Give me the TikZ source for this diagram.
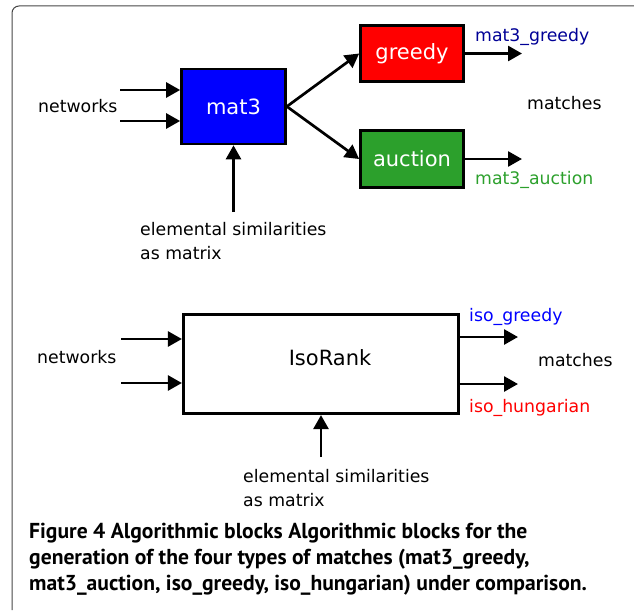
\documentclass[tikz,border=0pt]{standalone}
\usepackage{fontspec}
\setmainfont{DejaVu Sans}
\newfontfamily\capfont{PT Sans}
\usetikzlibrary{arrows.meta}
\definecolor{boxblue}{RGB}{0,0,255}
\definecolor{boxred}{RGB}{255,0,0}
\definecolor{boxgreen}{RGB}{44,160,44}
\definecolor{navylbl}{RGB}{0,0,150}
\definecolor{framegray}{RGB}{70,70,70}
\tikzset{
  blk/.style={draw=black, line width=2.7pt, inner sep=0pt, text=white,
    font=\fontsize{21}{24}\selectfont},
  arr/.style={line width=2.7pt, -{Triangle[length=14pt,width=15pt]}},
  lbl/.style={font=\fontsize{17.3}{24}\selectfont, inner sep=0pt, anchor=west},
  captext/.style={font=\capfont\bfseries\fontsize{21.6}{26}\selectfont, inner sep=0pt, anchor=base west}
}
\begin{document}
\begin{tikzpicture}[x=1pt,y=-1pt]
\useasboundingbox (0,0) rectangle (634,610);
\draw[framegray, line width=1pt, rounded corners=7pt] (12,610) -- (12,6) -- (634,6);

% top block
\node[blk, fill=boxblue, minimum width=104pt, minimum height=75pt] (mat3) at (233.5,106.5) {mat3};
\node[blk, fill=boxred, minimum width=103pt, minimum height=56pt] (greedy) at (412,53.5) {greedy};
\node[blk, fill=boxgreen, minimum width=103pt, minimum height=57pt] (auction) at (412,159) {auction};

\coordinate (in1) at (120,90);
\coordinate (in2) at (120,121);
\draw[arr] (in1) -- (in1 -| mat3.west);
\draw[arr] (in2) -- (in2 -| mat3.west);
\coordinate (sim1) at (233.5,212);
\draw[arr] (sim1) -- (mat3.south);
\draw[arr] (mat3.east) -- (greedy.west);
\draw[arr] (mat3.east) -- (auction.west);
\coordinate (og) at (522,53.5);
\coordinate (oa) at (522,159);
\draw[arr] (greedy.east) -- (og);
\draw[arr] (auction.east) -- (oa);

\node[lbl] (netA) at (38,106) {networks};
\node[lbl] (matchA) at (527,103) {matches};
\node[lbl, text=navylbl] (mg) at (475,37) {mat3\_greedy};
\node[lbl, text=boxgreen] (ma) at (475,180) {mat3\_auction};
\node[lbl, align=left] (simA) at (140,241) {elemental similarities\\as matrix};

% bottom block
\node[blk, fill=white, minimum width=275.5pt, minimum height=99.5pt] (iso) at (321,364) {};
\node[font=\fontsize{21}{24}\selectfont, inner sep=0pt] (isolbl) at (330,358) {IsoRank};
\coordinate (in3) at (121,339);
\coordinate (in4) at (121,383);
\draw[arr] (in3) -- (in3 -| iso.west);
\draw[arr] (in4) -- (in4 -| iso.west);
\coordinate (o3) at (518,337);
\coordinate (o4) at (518,384);
\draw[arr] (o3 -| iso.east) -- (o3);
\draw[arr] (o4 -| iso.east) -- (o4);
\coordinate (sim2) at (321,457);
\draw[arr] (sim2) -- (iso.south);

\node[lbl] (netB) at (37,357) {networks};
\node[lbl] (matchB) at (538,360) {matches};
\node[lbl, text=boxblue] (ig) at (469,317) {iso\_greedy};
\node[lbl, text=boxred] (ih) at (469,408) {iso\_hungarian};
\node[lbl, align=left] (simB) at (243,488) {elemental similarities\\as matrix};

% caption
\node[captext] (capA) at (29,538) {Figure 4 Algorithmic blocks Algorithmic blocks for the};
\node[captext] (capB) at (29,564) {generation of the four types of matches (mat3\_greedy,};
\node[captext] (capC) at (29,590) {mat3\_auction, iso\_greedy, iso\_hungarian) under comparison.};
\end{tikzpicture}
\end{document}
